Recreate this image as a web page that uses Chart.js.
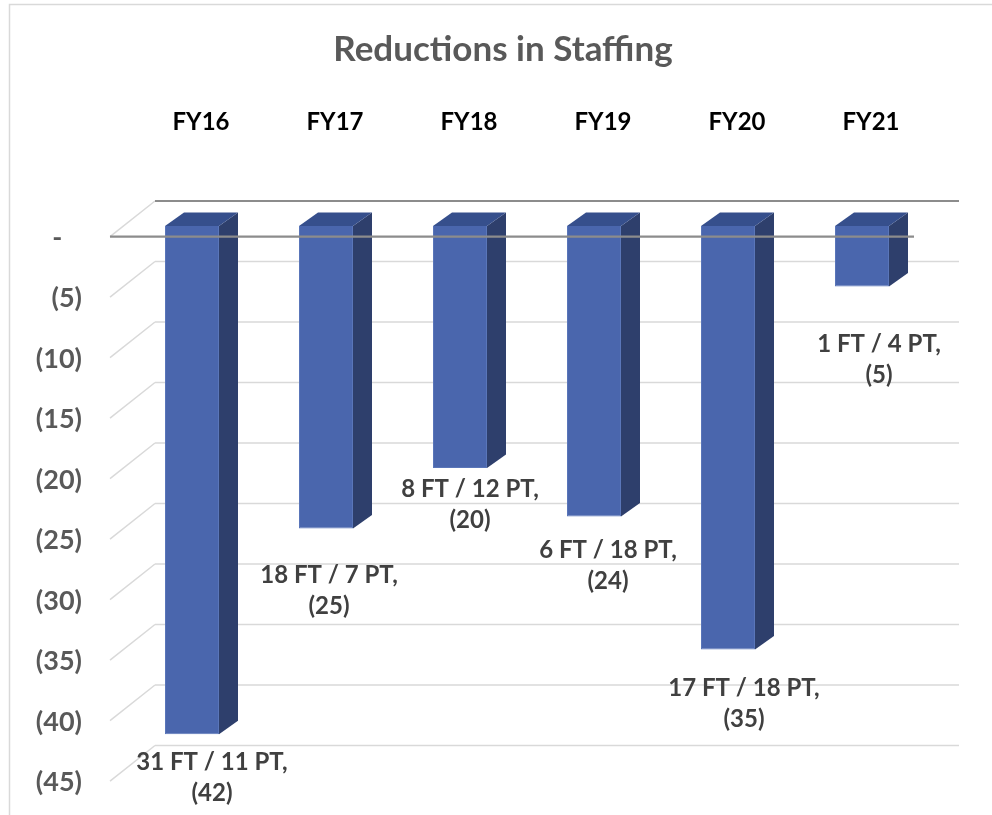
<!DOCTYPE html>
<html>
<head>
<meta charset="utf-8">
<script src="https://cdn.jsdelivr.net/npm/chart.js@4/dist/chart.umd.min.js"></script>
<style>
  html, body { margin: 0; padding: 0; background: #ffffff; }
  #wrap { width: 992px; height: 815px; }
</style>
</head>
<body>
<div id="wrap"><canvas id="chart" width="992" height="815"></canvas></div>
<script>
// Staffing reductions per fiscal year (negative = positions removed)
const categories = ['FY16', 'FY17', 'FY18', 'FY19', 'FY20', 'FY21'];
const fullTime   = [31, 18, 8, 6, 17, 1];
const partTime   = [11, 7, 12, 18, 18, 4];
const reductions = [-42, -25, -20, -24, -35, -5];
const axisMin = -45;
const axisMax = 0;
const axisStep = 5;

const FONT = 'Lato, "Open Sans", sans-serif';

// Oblique projection offsets relative to the plane the bars' front faces sit in
const FRONT_PLANE = { dx: -15, dy: 10.7 };
const BACK_PLANE  = { dx: 30,  dy: -25 };
const BAR_DEPTH   = { dx: 19,  dy: -13.4 };

// Per-label nudges (x, y of first line relative to the bar end)
const LABEL_NUDGE = [[20, 28], [3, 47], [10, 21], [14, 34], [16, 39], [17, 58]];

function tickText(v) {
  if (v === 0) return '-   ';
  return '(' + Math.abs(v) + ')';
}

const pseudo3d = {
  id: 'pseudo3d',
  beforeDraw(chart) {
    const ctx = chart.ctx;
    ctx.save();
    ctx.strokeStyle = '#d9d9d9';
    ctx.lineWidth = 1.5;
    ctx.beginPath();
    ctx.moveTo(9.5, chart.height);
    ctx.lineTo(9.5, 4.5);
    ctx.lineTo(chart.width, 4.5);
    ctx.stroke();
    ctx.restore();
  },
  beforeDatasetsDraw(chart) {
    const ctx = chart.ctx;
    const y = chart.scales.y;
    const L = chart.chartArea.left, R = chart.chartArea.right;
    ctx.save();
    ctx.lineCap = 'butt';
    for (let v = axisMax; v >= axisMin; v -= axisStep) {
      const py = y.getPixelForValue(v);
      // side wall diagonal
      ctx.strokeStyle = '#d9d9d9';
      ctx.lineWidth = 1.5;
      ctx.beginPath();
      ctx.moveTo(L + FRONT_PLANE.dx, py + FRONT_PLANE.dy);
      ctx.lineTo(L + BACK_PLANE.dx, py + BACK_PLANE.dy);
      ctx.stroke();
      // back wall line
      ctx.strokeStyle = v === 0 ? '#8c8c8c' : '#d9d9d9';
      ctx.lineWidth = v === 0 ? 2.2 : 1.5;
      ctx.beginPath();
      ctx.moveTo(L + BACK_PLANE.dx, py + BACK_PLANE.dy);
      ctx.lineTo(R + BACK_PLANE.dx, py + BACK_PLANE.dy);
      ctx.stroke();
    }
    ctx.restore();
  },
  afterDatasetsDraw(chart) {
    const ctx = chart.ctx;
    const meta = chart.getDatasetMeta(0);
    const x = chart.scales.x;
    const y = chart.scales.y;
    const L = chart.chartArea.left, R = chart.chartArea.right;
    ctx.save();
    meta.data.forEach((bar) => {
      const p = bar.getProps(['x', 'y', 'base', 'width'], true);
      const left = p.x - p.width / 2, right = p.x + p.width / 2;
      const top = Math.min(p.y, p.base), bottom = Math.max(p.y, p.base);
      // side face
      ctx.fillStyle = '#2e3f6c';
      ctx.beginPath();
      ctx.moveTo(right, top);
      ctx.lineTo(right + BAR_DEPTH.dx, top + BAR_DEPTH.dy);
      ctx.lineTo(right + BAR_DEPTH.dx, bottom + BAR_DEPTH.dy);
      ctx.lineTo(right, bottom);
      ctx.closePath();
      ctx.fill();
      // top face
      ctx.fillStyle = '#364f8c';
      ctx.beginPath();
      ctx.moveTo(left, top);
      ctx.lineTo(left + BAR_DEPTH.dx, top + BAR_DEPTH.dy);
      ctx.lineTo(right + BAR_DEPTH.dx, top + BAR_DEPTH.dy);
      ctx.lineTo(right, top);
      ctx.closePath();
      ctx.fill();
    });
    // front zero line, in front of the bars
    const y0 = y.getPixelForValue(0);
    ctx.strokeStyle = '#8c8c8c';
    ctx.lineWidth = 2.2;
    ctx.beginPath();
    ctx.moveTo(L + FRONT_PLANE.dx, y0 + FRONT_PLANE.dy);
    ctx.lineTo(R + FRONT_PLANE.dx, y0 + FRONT_PLANE.dy);
    ctx.stroke();

    // category labels above the plot
    ctx.fillStyle = '#000000';
    ctx.font = 'bold 24px ' + FONT;
    ctx.textAlign = 'center';
    ctx.textBaseline = 'middle';
    categories.forEach((c, i) => {
      ctx.fillText(c, x.getPixelForValue(i) + 9, 122);
    });

    // data labels
    ctx.fillStyle = '#404040';
    ctx.font = 'bold 24px ' + FONT;
    meta.data.forEach((bar, i) => {
      const p = bar.getProps(['x', 'y'], true);
      const v = chart.data.datasets[0].data[i];
      const nx = p.x + LABEL_NUDGE[i][0];
      const ny = p.y + LABEL_NUDGE[i][1];
      ctx.fillText(fullTime[i] + ' FT / ' + partTime[i] + ' PT,', nx, ny);
      ctx.fillText('(' + Math.abs(v) + ')', nx, ny + 31);
    });
    ctx.restore();
  }
};

function draw() {
  new Chart(document.getElementById('chart'), {
    type: 'bar',
    data: {
      labels: categories,
      datasets: [{
        label: 'Reductions in Staffing',
        data: reductions,
        backgroundColor: '#4a66ad',
        borderColor: '#5a76b9',
        borderWidth: 1,
        categoryPercentage: 1,
        barPercentage: 0.403
      }]
    },
    options: {
      responsive: false,
      devicePixelRatio: 1,
      animation: false,
      layout: { padding: { left: 14, right: 0, top: 0, bottom: 44.5 } },
      plugins: {
        legend: { display: false },
        tooltip: { enabled: false },
        title: {
          display: true,
          text: 'Reductions in Staffing',
          color: '#595959',
          font: { family: FONT, size: 35, weight: 'bold', lineHeight: 1.2 },
          padding: { top: 29, bottom: 35 }
        }
      },
      scales: {
        x: {
          position: 'top',
          grid: { display: false },
          border: { display: false },
          ticks: { display: false },
          afterFit(s) {
            s.height = 120;
            s.paddingLeft = 0;
            s.paddingRight = 0;
          }
        },
        y: {
          position: 'left',
          min: axisMin,
          max: axisMax,
          grid: { display: false },
          border: { display: false },
          ticks: {
            stepSize: axisStep,
            color: '#595959',
            font: { family: FONT, size: 27, weight: 'bold', lineHeight: 1.2 },
            padding: 35,
            labelOffset: 12,
            callback: (v) => tickText(v)
          },
          afterFit(s) {
            s.width = 111;
            s.paddingTop = 0;
            s.paddingBottom = 0;
          }
        },
        yRight: {
          type: 'linear',
          position: 'right',
          grid: { display: false },
          border: { display: false },
          ticks: { display: false },
          afterFit(s) {
            s.width = 63;
            s.paddingTop = 0;
            s.paddingBottom = 0;
          }
        }
      }
    },
    plugins: [pseudo3d]
  });
}

if (document.fonts && document.fonts.load) {
  document.fonts.load('bold 24px Lato').then(draw, draw);
} else {
  draw();
}
</script>
</body>
</html>
